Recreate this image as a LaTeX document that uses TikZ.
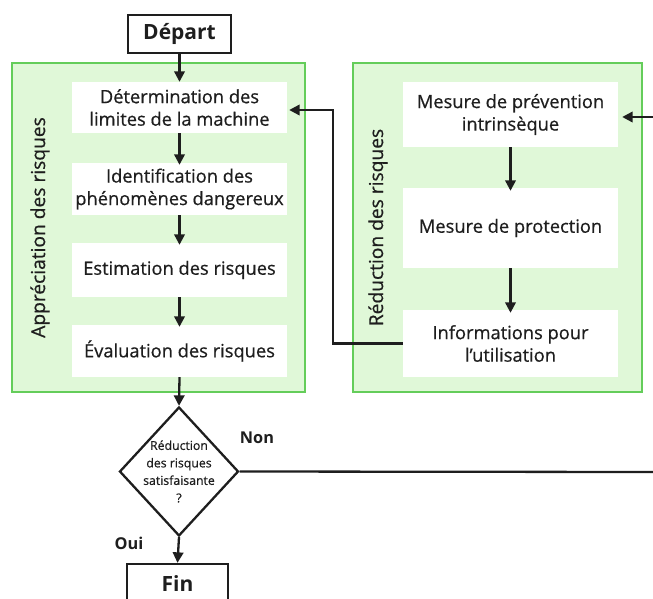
\documentclass[tikz,border=0pt]{standalone}
\usepackage{fontspec}
\setmainfont{Open Sans}[UprightFeatures={FakeBold=0.6}]
\usetikzlibrary{arrows.meta,shapes.geometric}
\definecolor{gfill}{RGB}{224,248,216}
\definecolor{gline}{RGB}{100,205,90}
\definecolor{ink}{RGB}{30,30,30}
\begin{document}
\begin{tikzpicture}[x=1pt,y=-1pt,
  grp/.style={draw=gline, line width=1.5pt, fill=gfill, inner sep=0pt, rectangle},
  inbox/.style={fill=white, inner sep=0pt, align=center, text=ink, font=\fontsize{18.3}{22.5}\selectfont, minimum width=215pt},
  term/.style={draw=ink, line width=2.3pt, fill=white, text=ink, inner sep=0pt, font=\bfseries\fontsize{21}{24}\selectfont},
  vlabel/.style={rotate=90, text=ink, font=\fontsize{19.2}{22}\selectfont},
  blabel/.style={text=ink, font=\bfseries\fontsize{16.3}{19}\selectfont},
  arr/.style={draw=ink, line width=2.3pt, -{Triangle[length=10.5pt,width=10.5pt]}},
  ln/.style={draw=ink, line width=2.3pt}]
\clip (0,0) rectangle (653,599);
\fill[white] (0,0) rectangle (653,599);

% groups
\node[grp, minimum width=293pt, minimum height=329pt] (appr) at (158.5,227.5) {};
\node[grp, minimum width=289pt, minimum height=329pt] (redu) at (497.5,227.5) {};
\node[vlabel] (lblA) at (40,227.5) {Appréciation des risques};
\node[vlabel] (lblR) at (378,227.5) {Réduction des risques};

% left boxes
\node[inbox, minimum height=51pt] (b1) at (179.5,107.5) {Détermination des\\limites de la machine};
\node[inbox, minimum height=52pt] (b2) at (179.5,189) {Identification des\\phénomènes dangereux};
\node[inbox, minimum height=54pt] (b3) at (179.5,270) {Estimation des risques};
\node[inbox, minimum height=52pt] (b4) at (179.5,351) {Évaluation des risques};

% right boxes
\node[inbox, minimum height=65pt] (r1) at (510.5,114.5) {Mesure de prévention\\intrinsèque};
\node[inbox, minimum height=80pt] (r2) at (510.5,228) {Mesure de protection};
\node[inbox, minimum height=67pt] (r3) at (510.5,343.5) {Informations pour\\l’utilisation};

% terminals
\node[term, minimum width=103pt, minimum height=38pt] (dep) at (179.5,34) {Départ};
\node[term, minimum width=101pt, minimum height=40pt] (fin) at (177.5,584) {Fin};

% decision
\node[diamond, draw=ink, line width=2.3pt, fill=white, minimum width=119pt, minimum height=129pt, inner sep=0pt] (dia) at (179,471.5) {};
\node[text=ink, align=center, inner sep=0pt, font=\fontsize{12.3}{17.5}\selectfont] (diat) at (dia.center) {Réduction\\des risques\\satisfaisante\\?};
\node[blabel] (non) at (257,438) {Non};
\node[blabel] (oui) at (129,543) {Oui};

% connectors
\draw[arr] (dep.south) -- (b1.north);
\draw[arr] (b1.south) -- ([yshift=-2pt]b2.north);
\draw[arr] (b2.south) -- ([yshift=-2pt]b3.north);
\draw[arr] (b3.south) -- ([yshift=-2pt]b4.north);
\draw[arr] (b4.south) -- (dia.north);
\draw[arr] (dia.south) -- (fin.north);
\draw[arr] (r1.south) -- ([yshift=-3pt]r2.north);
\draw[arr] (r2.south) -- ([yshift=-3pt]r3.north);

\coordinate (fbTop) at (333,110);
\draw[arr, shorten >=2pt] (r3.west) -| (fbTop) -- (fbTop -| b1.east);
\coordinate (inR) at (653,117);
\draw[arr, shorten >=4pt] (inR) -- (inR -| r1.east);
\coordinate (outR) at (653,472);
\draw[ln] (dia.east) -- (outR);
\end{tikzpicture}
\end{document}
